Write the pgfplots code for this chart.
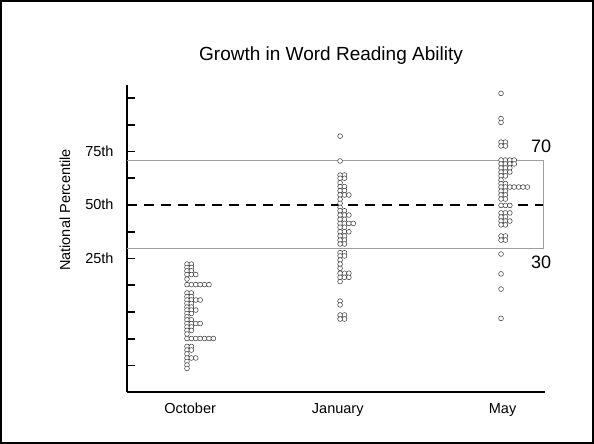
\documentclass[border=0pt]{standalone}
\usepackage{pgfplots}
\pgfplotsset{compat=1.18}
\usepackage{fontspec}
\setmainfont{Liberation Sans}
\pgfplotsset{dot/.style={only marks, mark=*, mark size=2.4bp,
     mark options={line width=0.5bp, draw=black!80, fill=white}}}
\begin{document}
\begin{tikzpicture}[x=1bp,y=1bp]
\useasboundingbox (0,0) rectangle (594,444);
\draw[line width=1.6bp] (0.8,0.8) rectangle (593.2,443.2);
\node[font=\fontsize{19bp}{22bp}\selectfont] at (331,388) {Growth in Word Reading Ability};
\node[rotate=90,font=\fontsize{14.5bp}{17bp}\selectfont] at (65,234) {National Percentile};
\begin{axis}[
  at={(127bp,52bp)}, anchor=south west,
  scale only axis, width=418bp, height=307bp,
  xmin=-0.382, xmax=2.28, ymin=-37.4, ymax=106.1,
  axis x line=bottom, axis y line=left,
  axis line style={-, line width=2.6bp},
  clip=false,
  xtick={0.02,0.96,2.01}, xticklabels={October,January,May},
  xtick style={draw=none},
  ytick={-25,-12.5,0,12.5,25,37.5,50,62.5,75,87.5,100},
  yticklabels={,,,,25th,,50th,,75th,,},
  ytick style={line width=1.8bp, black},
  tick align=inside, major tick length=8bp,
  tick label style={font=\fontsize{14.5bp}{17bp}\selectfont},
  typeset ticklabels with strut,
  yticklabel style={xshift=-10bp, yshift=-1.5bp},
  xticklabel style={yshift=-6bp},
]
\draw[gray!75, line width=1.2bp] (axis cs:-0.382,70.8) -- (axis cs:2.268,70.8) -- (axis cs:2.268,29.6) -- (axis cs:-0.382,29.6);
\draw[black, line width=2.2bp, dash pattern=on 10bp off 7bp] (axis cs:-0.382,50) -- (axis cs:2.268,50);
\node[font=\fontsize{18bp}{20bp}\selectfont] at (axis cs:2.255,77.6) {70};
\node[font=\fontsize{18bp}{20bp}\selectfont] at (axis cs:2.255,23.4) {30};
% October
\addplot[dot] table {
x y
0 22.4
0.028 22.4
0 20.8
0.028 20.8
0 19.2
0.028 19.2
0 17.5
0.028 17.5
0.056 17.5
0 15.4
0 12.8
0.028 12.8
0.056 12.8
0.084 12.8
0.112 12.8
0.140 12.8
0 8.9
0.028 8.9
0 7.2
0.028 7.2
0 5.6
0.028 5.6
0.056 5.6
0.084 5.6
0 4.0
0.028 4.0
0 2.3
0.028 2.3
0 0.9
0.028 0.9
0.056 0.9
0 -0.7
0.028 -0.7
0 -2.3
0 -3.7
0.028 -3.7
0 -5.4
0.028 -5.4
0.056 -5.4
0.084 -5.4
0 -7.0
0.028 -7.0
0 -8.6
0.028 -8.6
0 -10.3
0 -12.4
0.028 -12.4
0.056 -12.4
0.084 -12.4
0.112 -12.4
0.140 -12.4
0.168 -12.4
0 -16.1
0.028 -16.1
0 -17.8
0.028 -17.8
0 -19.6
0 -21.5
0.028 -21.5
0.056 -21.5
0 -23.1
0 -24.8
0 -26.4
};
% January
\addplot[dot] table {
x y
0.975 82.2
0.975 70.6
0.975 64.0
1.003 64.0
0.975 62.5
1.003 62.5
0.975 60.4
0.975 58.6
1.003 58.6
0.975 56.7
1.003 56.7
0.975 54.7
1.003 54.7
1.031 54.7
0.975 52.7
0.975 50.8
0.975 48.9
0.975 47.3
1.003 47.3
0.975 45.3
1.003 45.3
1.031 45.3
0.975 43.3
1.003 43.3
0.975 41.4
1.003 41.4
1.031 41.4
1.059 41.4
0.975 39.6
1.003 39.6
0.975 37.5
1.003 37.5
1.031 37.5
0.975 35.5
1.003 35.5
0.975 33.6
1.003 33.6
0.975 31.8
1.003 31.8
0.975 27.7
1.003 27.7
0.975 26.2
1.003 26.2
0.975 24.3
0.975 22.4
0.975 20.4
0.975 18.1
1.003 18.1
1.031 18.1
0.975 16.2
1.003 16.2
1.031 16.2
0.975 14.2
0.975 5.1
0.975 3.3
0.975 -1.4
1.003 -1.4
0.975 -3.3
1.003 -3.3
};
% May
\addplot[dot] table {
x y
2 102.2
2 90.4
2 88.6
2 79.4
2.028 79.4
2 77.6
2.028 77.6
2 71.0
2.028 71.0
2.056 71.0
2.084 71.0
2 69.2
2.028 69.2
2.056 69.2
2.084 69.2
2 67.3
2.028 67.3
2.056 67.3
2 65.4
2.028 65.4
2.056 65.4
2 63.6
2.028 63.6
2 61.7
2 60.0
2.028 60.0
2 58.4
2.028 58.4
2.056 58.4
2.084 58.4
2.112 58.4
2.140 58.4
2.168 58.4
2 56.5
2.028 56.5
2 54.7
2.028 54.7
2 52.8
2.028 52.8
2 49.8
2.028 49.8
2.056 49.8
2 46.3
2.028 46.3
2.056 46.3
2 44.4
2.028 44.4
2 42.5
2.028 42.5
2.056 42.5
2 40.7
2.028 40.7
2 35.5
2.028 35.5
2 33.6
2.028 33.6
2 27.1
2 17.8
2 10.7
2 -3.0
};
\end{axis}
\end{tikzpicture}
\end{document}
